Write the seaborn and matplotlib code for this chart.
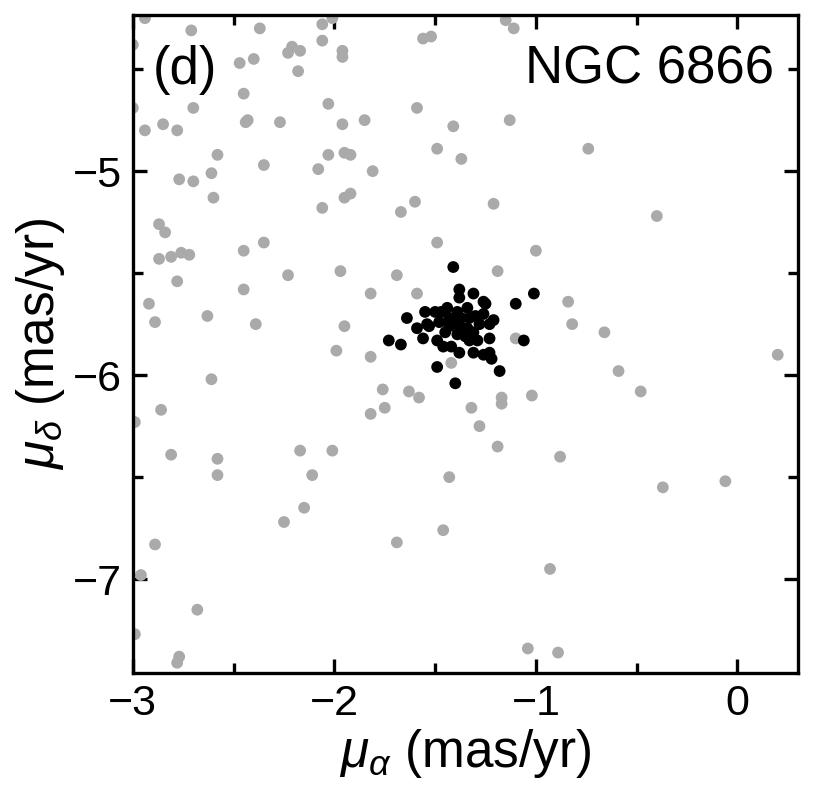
import numpy as np
import pandas as pd
import matplotlib
matplotlib.use("Agg")
import matplotlib.pyplot as plt
import seaborn as sns
from matplotlib.ticker import MultipleLocator

sns.set_style("ticks")
plt.rcParams["font.family"] = ["Liberation Sans", "DejaVu Sans"]
plt.rcParams["mathtext.fontset"] = "custom"
plt.rcParams["mathtext.it"] = "Liberation Sans:italic"
plt.rcParams["mathtext.rm"] = "Liberation Sans"
plt.rcParams["text.color"] = "black"
plt.rcParams["axes.labelcolor"] = "black"
plt.rcParams["axes.edgecolor"] = "black"
plt.rcParams["xtick.color"] = "black"
plt.rcParams["ytick.color"] = "black"

GREY = "#aaaaaa"
BLACK = "#000000"

# field stars (proper motions, mas/yr)
field_pmra = [
    -2.94, -2.71, -2.37, -2.06, -2.01, -2.06, -2.21, -2.23, -2.17, -1.96,
    -1.96, -2.40, -2.47, -2.18, -3.00, -2.45, -2.03, -2.70, -3.00, -2.94,
    -2.85, -2.78, -2.43, -2.44, -2.27, -1.96, -2.58, -2.35, -2.03, -1.95,
    -1.92, -2.08, -2.77, -2.70, -2.61, -2.60, -2.06, -1.95, -1.92, -2.87,
    -2.84, -2.45, -2.35, -2.87, -2.81, -2.76, -2.72, -2.23, -1.97, -2.78,
    -2.45, -2.92, -2.89, -2.63, -2.39, -1.95,
    -1.15, -1.11, -1.56, -1.52, -1.59, -1.85, -1.41, -1.13, -1.49, -1.37,
    -1.81, -1.60, -1.67, -1.21, -1.49, -1.00, -1.69, -1.19, -1.82, -1.59,
    -0.84, -0.82, -1.10, -0.40, -0.66, -0.74,
    -1.99, -2.61, -2.86, -2.99, -2.81, -2.58, -2.58, -2.17, -2.01, -2.11,
    -2.15, -1.82, -1.42, -1.76, -1.63, -1.58, -1.75, -1.82, -1.32, -1.17,
    -1.17, -1.02, -1.28, -1.19, -0.88, -1.43,
    0.20, -0.59, -0.48, -0.37, -0.06,
    -2.25, -2.89, -2.96, -2.68, -2.99, -2.77, -2.78,
    -1.69, -1.46, -0.93, -1.04, -0.89,
]
field_pmdec = [
    -4.25, -4.31, -4.30, -4.28, -4.25, -4.36, -4.39, -4.42, -4.41, -4.41,
    -4.44, -4.45, -4.47, -4.51, -4.38, -4.62, -4.67, -4.69, -4.69, -4.80,
    -4.77, -4.80, -4.75, -4.76, -4.76, -4.77, -4.92, -4.97, -4.92, -4.91,
    -4.92, -4.99, -5.04, -5.05, -5.01, -5.13, -5.18, -5.13, -5.11, -5.26,
    -5.30, -5.39, -5.35, -5.43, -5.42, -5.40, -5.41, -5.51, -5.49, -5.54,
    -5.58, -5.65, -5.74, -5.71, -5.75, -5.76,
    -4.26, -4.30, -4.35, -4.34, -4.69, -4.75, -4.78, -4.75, -4.89, -4.94,
    -5.00, -5.15, -5.20, -5.16, -5.35, -5.39, -5.51, -5.49, -5.60, -5.60,
    -5.64, -5.75, -5.82, -5.22, -5.79, -4.89,
    -5.88, -6.02, -6.17, -6.23, -6.39, -6.41, -6.49, -6.37, -6.37, -6.49,
    -6.65, -5.91, -5.94, -6.07, -6.08, -6.11, -6.16, -6.19, -6.16, -6.11,
    -6.14, -6.10, -6.25, -6.35, -6.40, -6.50,
    -5.90, -5.98, -6.08, -6.55, -6.52,
    -6.72, -6.83, -6.98, -7.15, -7.27, -7.38, -7.41,
    -6.82, -6.76, -6.95, -7.34, -7.36,
]

# cluster members
memb_pmra = [
    -1.41, -1.38, -1.38, -1.31, -1.01, -1.10, -1.26, -1.25, -1.64, -1.55,
    -1.50, -1.44, -1.39, -1.34, -1.47, -1.26, -1.48, -1.43, -1.37, -1.33,
    -1.21, -1.23, -1.28, -1.54, -1.53, -1.59, -1.43, -1.38, -1.34, -1.31,
    -1.39, -1.35, -1.56, -1.73, -1.67, -1.49, -1.33, -1.29, -1.23, -1.06,
    -1.46, -1.42, -1.38, -1.31, -1.26, -1.23, -1.22, -1.49, -1.18, -1.40,
    -1.36, -1.40, -1.30, -1.45,
]
memb_pmdec = [
    -5.47, -5.58, -5.62, -5.60, -5.60, -5.65, -5.64, -5.65, -5.72, -5.69,
    -5.69, -5.67, -5.69, -5.67, -5.69, -5.70, -5.74, -5.72, -5.72, -5.72,
    -5.73, -5.75, -5.75, -5.75, -5.76, -5.77, -5.76, -5.76, -5.77, -5.79,
    -5.80, -5.81, -5.82, -5.83, -5.85, -5.83, -5.83, -5.83, -5.82, -5.83,
    -5.86, -5.86, -5.89, -5.89, -5.90, -5.89, -5.92, -5.96, -5.98, -6.04,
    -5.78, -5.74, -5.71, -5.79,
]

df = pd.concat([
    pd.DataFrame({"pmra": field_pmra, "pmdec": field_pmdec, "group": "field"}),
    pd.DataFrame({"pmra": memb_pmra, "pmdec": memb_pmdec, "group": "member"}),
], ignore_index=True)

fig = plt.figure(figsize=(8.15, 7.95), dpi=100)
ax = fig.add_axes([0.163, 0.1535, 0.816, 0.8275])

sns.scatterplot(
    data=df, x="pmra", y="pmdec", hue="group",
    palette={"field": GREY, "member": BLACK},
    s=72, linewidth=0, legend=False, ax=ax,
)

ax.set_xlim(-3.0, 0.3)
ax.set_ylim(-7.46, -4.235)
ax.xaxis.set_major_locator(MultipleLocator(1))
ax.xaxis.set_minor_locator(MultipleLocator(0.5))
ax.yaxis.set_major_locator(MultipleLocator(1))
ax.yaxis.set_minor_locator(MultipleLocator(0.5))
ax.tick_params(which="both", direction="in", top=True, right=True, width=2.4,
               labelsize=31, pad=8)
ax.tick_params(which="major", length=10)
ax.tick_params(which="minor", length=7)
for sp in ax.spines.values():
    sp.set_linewidth(2.4)

ax.set_xlabel(r"$\mu_\alpha$ (mas/yr)", fontsize=37, labelpad=2)
ax.set_ylabel(r"$\mu_\delta$ (mas/yr)", fontsize=37, labelpad=4)

ax.text(0.03, 0.955, "(d)", transform=ax.transAxes, fontsize=38,
        ha="left", va="top",
        bbox=dict(facecolor="white", edgecolor="none", pad=1))
ax.text(0.965, 0.955, "NGC 6866", transform=ax.transAxes, fontsize=38,
        ha="right", va="top",
        bbox=dict(facecolor="white", edgecolor="none", pad=1))

fig.savefig("out.png", dpi=100)
